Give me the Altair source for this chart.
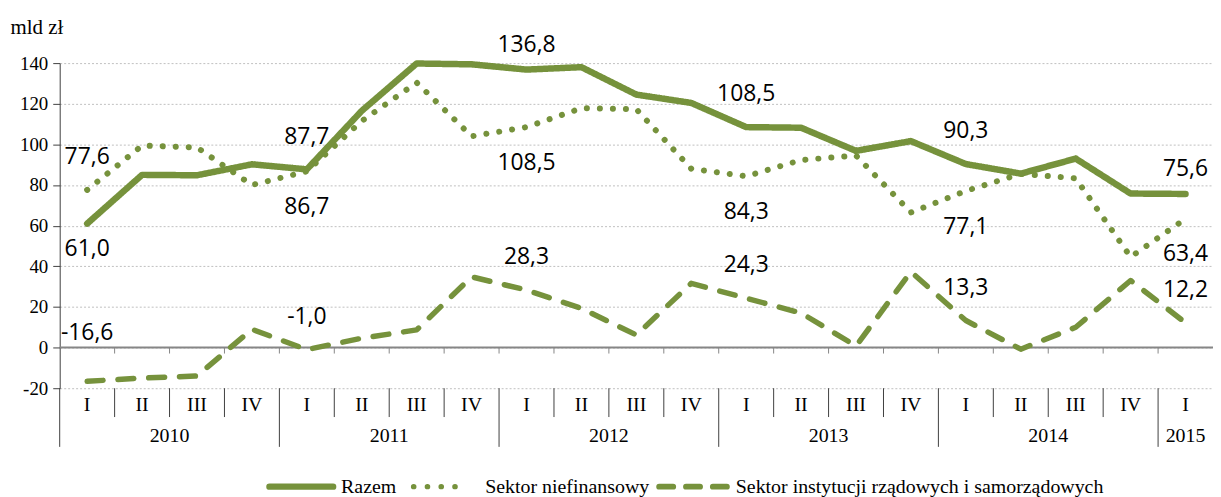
import altair as alt
import pandas as pd

# ---------------- data ----------------
quarters = ["I", "II", "III", "IV", "I", "II", "III", "IV", "I", "II", "III", "IV",
            "I", "II", "III", "IV", "I", "II", "III", "IV", "I"]
years = [2010] * 4 + [2011] * 4 + [2012] * 4 + [2013] * 4 + [2014] * 4 + [2015]

razem = [61.0, 85.0, 84.8, 90.2, 87.7, 116.5, 139.8, 139.4, 136.8, 138.0, 124.5,
         120.4, 108.5, 108.2, 96.8, 101.6, 90.3, 85.6, 93.0, 75.8, 75.6]
niefinansowy = [77.6, 99.4, 98.5, 80.0, 86.7, 111.5, 130.4, 104.0, 108.5, 117.8, 117.3,
                88.0, 84.3, 92.3, 94.5, 66.5, 77.1, 85.5, 83.3, 44.6, 63.4]
rzadowy = [-16.6, -15.0, -14.0, 9.0, -1.0, 4.6, 8.7, 34.8, 28.3, 19.3, 6.2,
           31.6, 24.3, 17.0, 0.8, 37.3, 13.3, -0.8, 10.0, 33.0, 12.2]

series_names = ["Razem", "Sektor niefinansowy",
                "Sektor instytucji rządowych i samorządowych"]
series_values = [razem, niefinansowy, rzadowy]

# which points carry a value label, and on which side of the line
label_points = [
    ("Razem", 0, "below_near"), ("Sektor niefinansowy", 0, "above"), (series_names[2], 0, "above_far"),
    ("Razem", 4, "above"), ("Sektor niefinansowy", 4, "below"), (series_names[2], 4, "above"),
    ("Razem", 8, "above_near"), ("Sektor niefinansowy", 8, "below"), (series_names[2], 8, "above"),
    ("Razem", 12, "above"), ("Sektor niefinansowy", 12, "below"), (series_names[2], 12, "above"),
    ("Razem", 16, "above"), ("Sektor niefinansowy", 16, "below"), (series_names[2], 16, "above"),
    ("Razem", 20, "above_near"), ("Sektor niefinansowy", 20, "below"), (series_names[2], 20, "above"),
]

# ---------------- tables ----------------
rows = []
for name, vals in zip(series_names, series_values):
    for i, v in enumerate(vals):
        rows.append({"idx": i, "series": name, "value": v})
df = pd.DataFrame(rows)

lookup = {name: vals for name, vals in zip(series_names, series_values)}
lab = pd.DataFrame([
    {"idx": i, "series": s, "value": lookup[s][i], "place": p,
     "text": f"{lookup[s][i]:.1f}".replace(".", ",")}
    for s, i, p in label_points
])

cats = pd.DataFrame({"idx": list(range(len(quarters))), "quarter": quarters, "year": years})
years_df = cats.groupby("year", as_index=False)["idx"].mean()

bounds = []
for i in range(len(quarters) - 1):
    bounds.append({"pos": i + 0.5, "kind": "year" if quarters[i + 1] == "I" else "quarter"})
bounds_df = pd.DataFrame(bounds)
year_bounds = pd.DataFrame({"pos": [-0.5] + list(bounds_df.loc[bounds_df.kind == "year", "pos"])})
quarter_bounds = bounds_df[bounds_df.kind == "quarter"]
zero_df = pd.DataFrame({"value": [0]})

# ---------------- style ----------------
GREEN = "#76923C"
W, H = 1160, 327
ZERO_PX = H * 140 / 160
SERIF = "Liberation Serif"
SANS = "Open Sans"
DASHES = [[1, 0], [0.1, 13], [16, 15]]
WIDTHS = [6.5, 5.5, 6]

xs = alt.Scale(domain=[-0.5, 20.5], nice=False, zero=False)
ys = alt.Scale(domain=[-20, 140], nice=False)
yaxis = alt.Axis(values=list(range(-20, 141, 20)), title="mld zł", titleAngle=0,
                 titleX=-50, titleY=-36, titleAlign="left", titleBaseline="middle",
                 titleFont=SERIF, titleFontSize=21, titleFontWeight="normal", titleColor="black",
                 labelFont=SERIF, labelFontSize=19, labelColor="black", labelPadding=5,
                 labelExpr="datum.value < 0 ? '-' + abs(datum.value) : '' + datum.value",
                 tickSize=7, tickColor="#404040", domainColor="#404040",
                 grid=True, gridColor="#BFBFBF", gridDash=[2, 2], gridWidth=1)


def X(field):
    return alt.X(f"{field}:Q", scale=xs, axis=None)


def Y():
    return alt.Y("value:Q", scale=ys, axis=yaxis)


zero_line = alt.Chart(zero_df).mark_rule(color="#868686", strokeWidth=2).encode(y=Y())

zero_ticks = alt.Chart(bounds_df).mark_rule(color="#868686", strokeWidth=1).encode(
    x=X("pos"), y=alt.value(ZERO_PX), y2=alt.value(ZERO_PX + 6))

q_sep = alt.Chart(quarter_bounds).mark_rule(color="#404040", strokeWidth=1).encode(
    x=X("pos"), y=alt.value(H), y2=alt.value(H + 29))
y_sep = alt.Chart(year_bounds).mark_rule(color="#404040", strokeWidth=1).encode(
    x=X("pos"), y=alt.value(H), y2=alt.value(H + 59))

lines = alt.Chart(df).mark_line(color=GREEN, strokeCap="round", strokeJoin="round").encode(
    x=X("idx"),
    y=Y(),
    strokeDash=alt.StrokeDash("series:N", scale=alt.Scale(domain=series_names, range=DASHES),
                              legend=None),
    strokeWidth=alt.StrokeWidth("series:N", scale=alt.Scale(domain=series_names, range=WIDTHS),
                                legend=None),
)

# ---------------- legend (drawn as marks, layout in pixels) ----------------
LEG_Y = H + 99
legend_layout = [  # symbol start, symbol end, label start, legend dash, width
    (211, 275, 283, [1, 0], 6.5),
    (356, 411.1, 428, [0.1, 13.75], 5.5),
    (603, 671, 680, [14, 13], 6),
]
legend_layers = []
for name, (s0, s1, tx, dash, sw) in zip(series_names, legend_layout):
    one = pd.DataFrame({"series": [name]})
    legend_layers.append(
        alt.Chart(one).mark_rule(color=GREEN, strokeWidth=sw, strokeDash=dash, strokeCap="round")
        .encode(x=alt.value(s0), x2=alt.value(s1), y=alt.value(LEG_Y))
    )
    legend_layers.append(
        alt.Chart(one).mark_text(font=SERIF, fontSize=20, color="black", align="left",
                                 baseline="middle")
        .encode(x=alt.value(tx), y=alt.value(LEG_Y), text="series:N")
    )

offsets = {"above": -33, "below": 36, "above_near": -25, "below_near": 26, "above_far": -49}
label_layers = []
for place, dy in offsets.items():
    label_layers.append(
        alt.Chart(lab).transform_filter(alt.datum.place == place)
        .mark_text(font=SANS, fontSize=23, color="black", dy=dy, baseline="middle")
        .encode(x=X("idx"), y=Y(), text="text:N")
    )

q_text = alt.Chart(cats).mark_text(font=SERIF, fontSize=20, color="black", baseline="middle").encode(
    x=X("idx"), y=alt.value(H + 17), text="quarter:N")
y_text = alt.Chart(years_df).mark_text(font=SERIF, fontSize=20, color="black", baseline="middle").encode(
    x=X("idx"), y=alt.value(H + 48), text="year:N")

chart = alt.layer(
    zero_line, zero_ticks, q_sep, y_sep, q_text, y_text, lines, *legend_layers, *label_layers
).properties(
    width=W, height=H, autosize="none",
    padding={"left": 52, "top": 54, "right": 0, "bottom": 108},
).configure_view(stroke=None)

chart.save("out.html", embed_options={"renderer": "svg", "actions": False})
